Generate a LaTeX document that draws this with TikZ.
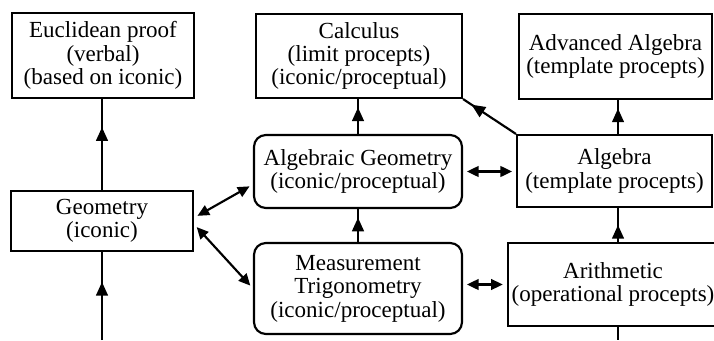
\documentclass[tikz,border=0pt]{standalone}
\usepackage{fontspec}
\setmainfont{Liberation Serif}
\usetikzlibrary{arrows.meta, decorations.markings, calc}
\definecolor{ink}{HTML}{000000}
\tikzset{
  concept/.style={draw=ink, line width=1.1pt, align=center, inner sep=2pt,
    font=\fontsize{11.8}{12}\selectfont},
  concept-round/.style={concept, rounded corners=6pt},
  link/.style={draw=ink, line width=1.1pt},
  % Arrowhead placed part-way along a connector
  mid-arrow/.style={link, postaction={decorate},
    decoration={markings, mark=at position #1 with {\arrow{Triangle[length=7pt, width=6pt]}}}},
  both-link/.style={link, {Triangle[length=6pt, width=5.5pt]}-{Triangle[length=6pt, width=5.5pt]},
    shorten <=2pt, shorten >=2pt}
}

\begin{document}
\begin{tikzpicture}[x=0.018cm, y=-0.018cm]
  \useasboundingbox (0,0) rectangle (714,340);
  \clip (0,0) rectangle (714,340);

  % ---- Top row ------------------------------------------------------------
  \node[concept, minimum width=3.276cm, minimum height=1.53cm] (euclid) at (103,55.5)
        {Euclidean proof\\(verbal)\\(based on iconic)};
  \node[concept, minimum width=3.708cm, minimum height=1.512cm] (calculus) at (359,56)
        {Calculus\\(limit procepts)\\(iconic/proceptual)};
  \node[concept, minimum width=3.474cm, minimum height=1.53cm] (advalg) at (615.5,56.5)
        {Advanced Algebra\\(template procepts)};

  % ---- Middle row ---------------------------------------------------------
  \node[concept, minimum width=3.276cm, minimum height=1.08cm] (geometry) at (102,221)
        {Geometry\\(iconic)};
  \node[concept-round, minimum width=3.744cm, minimum height=1.314cm] (alggeom) at (358,171.5)
        {Algebraic Geometry\\(iconic/proceptual)};
  \node[concept, minimum width=3.51cm, minimum height=1.296cm] (algebra) at (614.5,171)
        {Algebra\\(template procepts)};

  % ---- Bottom row ---------------------------------------------------------
  \node[concept-round, minimum width=3.744cm, minimum height=1.638cm] (measure) at (358,288.5)
        {Measurement\\Trigonometry\\(iconic/proceptual)};
  \node[concept, minimum width=3.744cm, minimum height=1.494cm] (arith) at (613,284.5)
        {Arithmetic\\(operational procepts)};

  % ---- Free ends at the lower edge ----------------------------------------
  \coordinate (geo-in) at (102,340);
  \coordinate (arith-in) at (618,340);

  % ---- Upward links -------------------------------------------------------
  \draw[mid-arrow=0.69] (geometry.north) -- (geometry.north |- euclid.south);
  \draw[mid-arrow=0.66] (geo-in) -- (geometry.south);
  \draw[mid-arrow=0.76] (alggeom.north) -- (alggeom.north |- calculus.south);
  \draw[mid-arrow=0.74] (measure.north) -- (alggeom.south);
  \draw[mid-arrow=0.5]  (arith-in |- arith.north) -- (arith-in |- algebra.south);
  \draw[mid-arrow=0.75] (arith-in |- algebra.north) -- (arith-in |- advalg.south);
  \draw[mid-arrow=0.84] (algebra.north west) -- (calculus.south east);
  \draw[link] (arith-in |- arith.south) -- (arith-in);

  % ---- Two-way links ------------------------------------------------------
  \draw[both-link] (geometry.2) -- (alggeom.187);
  \draw[both-link] (geometry.-2) -- (measure.west);
  \draw[both-link] (alggeom.east) -- (algebra.west |- alggeom.east);
  \draw[both-link] (arith.west -| measure.east) -- (arith.west);

\end{tikzpicture}
\end{document}
